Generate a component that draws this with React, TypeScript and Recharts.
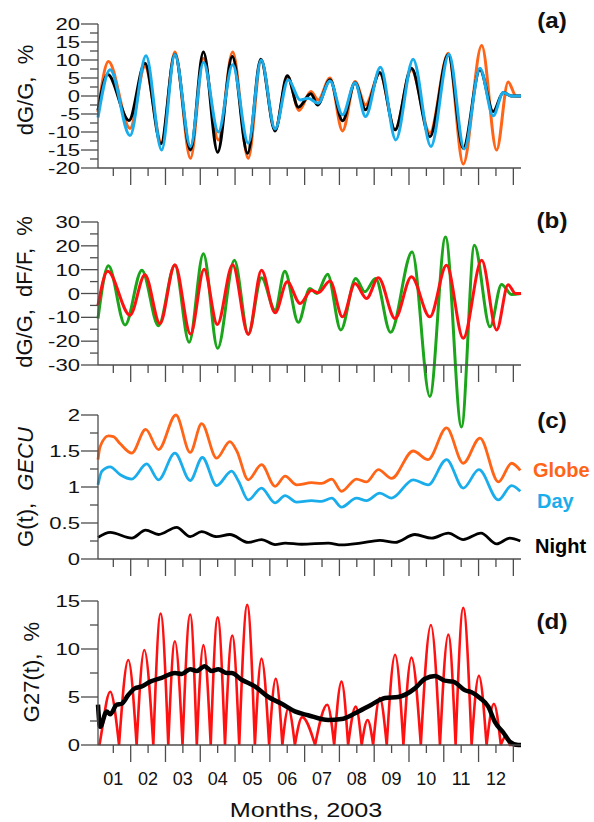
import { LineChart, Line, XAxis, YAxis, Customized } from 'recharts';

const FONT = '"Liberation Sans", Arial, Helvetica, sans-serif';
const AXIS = '#4d4d4d';
const ORANGE = '#ff6417';
const BLUE = '#1aadec';
const GREEN = '#1aa51a';
const RED = '#ff1111';

// x is in months of 2003 (0 = Jan 1)
const monthLabels = ['01', '02', '03', '04', '05', '06', '07', '08', '09', '10', '11', '12'];
const monthTicks = [0.5, 1, 1.5, 2, 2.5, 3, 3.5, 4, 4.5, 5, 5.5, 6, 6.5, 7, 7.5, 8, 8.5, 9, 9.5, 10, 10.5, 11, 11.5, 12];

const aTicks = [-20, -17.5, -15, -12.5, -10, -7.5, -5, -2.5, 0, 2.5, 5, 7.5, 10, 12.5, 15, 17.5, 20];
const bTicks = [-30, -25, -20, -15, -10, -5, 0, 5, 10, 15, 20, 25, 30];
const cTicks = [0, 0.25, 0.5, 0.75, 1, 1.25, 1.5, 1.75, 2];
const dTicks = [0, 2.5, 5, 7.5, 10, 12.5, 15];

// (a) dG/G, %
const aOrange = [[0.06, -4.5], [0.36, 9.6], [0.98, -9], [1.41, 8.2], [1.89, -13.1], [2.27, 12.2], [2.72, -17.3], [3.09, 10.5], [3.52, -12.2], [3.93, 12.2], [4.38, -17.3], [4.75, 10], [5.15, -9.4], [5.51, 5.4], [5.84, -4], [6.18, 1.25], [6.39, -1.1], [6.73, 5], [7.09, -9.7], [7.45, 4], [7.75, -2.5], [8.16, 6.4], [8.6, -9.4], [9.07, 7.3], [9.6, -10.3], [10.13, 11.9], [10.56, -18.9], [11.09, 14], [11.52, -15], [11.85, 3.9], [12.08, 0], [12.22, 0]];
const aBlack = [[0.06, -4], [0.34, 6], [0.95, -6.8], [1.41, 9.1], [1.87, -13.3], [2.27, 11.6], [2.72, -15], [3.09, 12.2], [3.5, -15.6], [3.92, 11], [4.36, -15.9], [4.74, 10.2], [5.15, -9.7], [5.5, 5.6], [5.82, -3.1], [6.18, 0.6], [6.37, -2.5], [6.73, 4.5], [7.09, -6.9], [7.45, 3.7], [7.75, -3.8], [8.16, 6.5], [8.6, -9.4], [9.07, 7.7], [9.6, -11.3], [10.13, 11.5], [10.56, -14.5], [11.04, 7.3], [11.42, -4.3], [11.71, 1], [11.95, 0], [12.22, 0]];
const aBlue = [[0.06, -6], [0.41, 7.3], [0.98, -11], [1.44, 11.2], [1.89, -15], [2.27, 11.5], [2.72, -14], [3.09, 9.4], [3.52, -10], [3.93, 8.7], [4.38, -13.1], [4.75, 10], [5.15, -9.2], [5.53, 4.5], [5.87, -1.1], [6.1, -0.6], [6.39, -2], [6.73, 4.2], [7.09, -5.2], [7.45, 3.7], [7.75, -5.7], [8.18, 8], [8.62, -12.2], [9.12, 10.2], [9.63, -14], [10.15, 11.6], [10.59, -14.7], [11.04, 7.7], [11.42, -5.5], [11.71, 1], [11.95, 0], [12.22, 0]];

// (b) dG/G, dF/F, %
const bGreen = [[0.06, -10.5], [0.36, 11.6], [0.84, -13.2], [1.32, 9.8], [1.8, -13.5], [2.27, 11.9], [2.68, -20.5], [3.09, 16.7], [3.5, -23], [3.98, 13.9], [4.38, -17], [4.76, 6.6], [5.15, -7], [5.43, 9.3], [5.82, -12.1], [6.15, 2.1], [6.35, 0], [6.66, 8.1], [7.04, -15.3], [7.47, 6.3], [7.73, 0.7], [8.04, 6.3], [8.47, -16.3], [9.09, 17.4], [9.6, -43.2], [10.05, 23.7], [10.51, -56], [10.88, 20.2], [11.33, -14], [11.66, 3.8], [11.95, -0.4], [12.22, 0]];
const bRed = [[0.06, -4.9], [0.34, 9.3], [0.98, -9.1], [1.41, 7.9], [1.84, -12.6], [2.27, 12.1], [2.72, -17], [3.11, 10.2], [3.49, -13], [3.93, 12.1], [4.38, -17.2], [4.76, 9.8], [5.15, -8.1], [5.5, 4.9], [5.87, -4.2], [6.2, 1.4], [6.39, 0.3], [6.73, 5.2], [7.09, -9.8], [7.45, 4.2], [7.78, -2.1], [8.12, 6.6], [8.6, -10.5], [9.07, 7], [9.6, -9.8], [10.08, 11.9], [10.56, -18.8], [11.09, 13.9], [11.52, -15.3], [11.85, 3.7], [12.06, 0], [12.22, 0]];

// (c) G(t), GECU
const cGlobe = [[0.06, 1.38], [0.12, 1.56], [0.36, 1.71], [0.5, 1.7], [0.7, 1.6], [1.03, 1.47], [1.43, 1.8], [1.8, 1.52], [2.3, 2.0], [2.71, 1.48], [3.04, 1.88], [3.47, 1.4], [3.85, 1.63], [4.05, 1.5], [4.38, 1.1], [4.76, 1.31], [5.15, 1.01], [5.44, 1.15], [5.77, 1.03], [6.2, 1.06], [6.49, 1.05], [6.78, 1.11], [7.06, 0.94], [7.49, 1.11], [7.78, 1.07], [8.12, 1.24], [8.5, 1.12], [9.12, 1.5], [9.55, 1.38], [10.08, 1.82], [10.56, 1.33], [11.04, 1.68], [11.57, 1.07], [11.95, 1.33], [12.2, 1.23]];
const cDay = [[0.06, 1.03], [0.17, 1.22], [0.41, 1.28], [0.7, 1.17], [1.03, 1.11], [1.46, 1.32], [1.8, 1.1], [2.27, 1.47], [2.71, 1.09], [3.06, 1.41], [3.47, 1.02], [3.9, 1.22], [4.1, 1.08], [4.38, 0.82], [4.76, 0.985], [5.15, 0.78], [5.44, 0.88], [5.77, 0.79], [6.2, 0.81], [6.49, 0.8], [6.78, 0.845], [7.06, 0.72], [7.49, 0.845], [7.78, 0.81], [8.16, 0.915], [8.5, 0.845], [9.12, 1.1], [9.55, 1.03], [10.08, 1.38], [10.56, 0.985], [11.01, 1.24], [11.57, 0.82], [11.95, 1.02], [12.2, 0.94]];
const cNight = [[0.06, 0.3], [0.41, 0.37], [1.03, 0.29], [1.43, 0.4], [1.8, 0.34], [2.32, 0.44], [2.71, 0.31], [3.04, 0.38], [3.47, 0.31], [3.85, 0.34], [4.38, 0.23], [4.76, 0.27], [5.15, 0.2], [5.44, 0.22], [5.91, 0.205], [6.68, 0.22], [7.06, 0.195], [7.6, 0.22], [8.16, 0.26], [8.6, 0.23], [9.17, 0.34], [9.65, 0.29], [10.13, 0.36], [10.56, 0.27], [11.07, 0.36], [11.52, 0.21], [11.9, 0.29], [12.2, 0.25]];

// (d) G27(t), %
const dRed = [[0.1, 0], [0.41, 5.55], [0.665, 0], [0.93, 8.85], [1.17, 0], [1.39, 9.9], [1.65, 0], [1.86, 13.7], [2.08, 0], [2.27, 10.8], [2.49, 0], [2.71, 13.6], [2.9, 0], [3.09, 10.4], [3.3, 0], [3.5, 13.3], [3.71, 0], [3.92, 11.4], [4.12, 0], [4.35, 14.6], [4.57, 0], [4.76, 9.0], [4.98, 0], [5.17, 6.9], [5.36, 0], [5.53, 3.8], [5.72, 0], [5.93, 2.9], [6.3, 0], [6.65, 4.2], [6.85, 0], [7.06, 6.6], [7.25, 0], [7.47, 4.0], [7.64, 0], [7.81, 2.6], [7.97, 0], [8.16, 4.9], [8.36, 0], [8.6, 9.4], [8.84, 0], [9.07, 9.1], [9.34, 0], [9.63, 12.5], [9.89, 0], [10.13, 11.5], [10.34, 0], [10.56, 14.3], [10.8, 0], [11.01, 7.2], [11.23, 0], [11.44, 4.3], [11.64, 0], [11.78, 0.9], [11.9, 0], [12.2, 0]];
const dBlack = [[0.06, 4.2], [0.12, 1.9], [0.31, 3.5], [0.41, 3.2], [0.6, 4.2], [0.74, 4.3], [0.93, 5.2], [1.12, 5.9], [1.32, 6.1], [1.56, 6.6], [1.89, 7.0], [2.27, 7.5], [2.47, 7.4], [2.71, 7.9], [2.9, 7.7], [3.12, 8.2], [3.33, 7.7], [3.52, 7.9], [3.76, 7.5], [3.9, 7.5], [4.19, 6.8], [4.57, 6.1], [4.96, 5.0], [5.34, 4.3], [5.72, 3.5], [6.1, 3.1], [6.68, 2.6], [7.06, 2.7], [7.45, 3.3], [7.92, 4.2], [8.31, 4.9], [8.69, 5.0], [9.17, 5.9], [9.46, 6.9], [9.75, 7.2], [10.03, 6.7], [10.27, 6.6], [10.61, 5.7], [10.8, 5.5], [11.04, 4.9], [11.28, 4.0], [11.47, 2.4], [11.71, 1.3], [11.9, 0.35], [12.14, 0], [12.22, 0]];

const pts = (s: number[][]) => s.map(([t, v]) => ({ t, v }));

// curve with rounded crests and sharp cusps where |x| touches zero
function cuspCurve(context: any) {
  let p: number[][] = [];
  const slope = (i: number, sec: number) => {
    const prev = p[i - 1], cur = p[i], next = p[i + 1];
    if (!prev || !next) return sec;
    if (cur[1] > prev[1] && cur[1] > next[1]) return sec * 1.5;
    if (cur[1] < prev[1] && cur[1] < next[1]) return 0;
    return sec;
  };
  return {
    areaStart() {},
    areaEnd() {},
    lineStart() { p = []; },
    point(x: number, y: number) { p.push([+x, +y]); },
    lineEnd() {
      if (!p.length) return;
      context.moveTo(p[0][0], p[0][1]);
      for (let i = 0; i < p.length - 1; i++) {
        const [x0, y0] = p[i];
        const [x1, y1] = p[i + 1];
        const dx = x1 - x0;
        const sec = (y1 - y0) / dx;
        const m0 = slope(i, sec);
        const m1 = slope(i + 1, sec);
        context.bezierCurveTo(x0 + dx / 3, y0 + (m0 * dx) / 3, x1 - dx / 3, y1 - (m1 * dx) / 3, x1, y1);
      }
    },
  };
}

const XTick = ({ x, y, payload, labels }: any) => {
  const v = payload.value;
  const edge = Number.isInteger(v);
  return (
    <g>
      <line x1={x} x2={x} y1={y} y2={y + (edge ? 17 : 8)} stroke={AXIS} strokeWidth={1.3} />
      {labels && !edge && (
        <text x={x} y={y + 40} textAnchor="middle" fontSize={18} fontFamily={FONT} fill="#111">
          {monthLabels[Math.floor(v)]}
        </text>
      )}
    </g>
  );
};

const YTick = ({ x, y, payload, step }: any) => {
  const v = payload.value;
  const major = Math.abs(v / step - Math.round(v / step)) < 1e-6;
  return (
    <g>
      <line x1={x - (major ? 17 : 8)} x2={x} y1={y} y2={y} stroke={AXIS} strokeWidth={1.3} />
      {major && (
        <text
          transform={`translate(${x - 18}, ${y}) scale(1.3, 1)`}
          dy="0.36em"
          textAnchor="end"
          fontSize={17}
          fontFamily={FONT}
          fill="#111"
        >
          {String(v)}
        </text>
      )}
    </g>
  );
};

const W = 594;
const TOP = 20;
const X_DOMAIN = [0.06, 12.22];

function Panel({ top, plotH, xAxisH, domain, ticks, step, labels, extras, children }: any) {
  return (
    <div style={{ position: 'absolute', left: 0, top }}>
      <LineChart width={W} height={TOP + plotH + xAxisH} margin={{ top: TOP, right: 73, bottom: 0, left: 0 }}>
        <XAxis
          dataKey="t"
          type="number"
          domain={X_DOMAIN}
          ticks={monthTicks}
          interval={0}
          height={xAxisH}
          tickLine={false}
          tickSize={0}
          tickMargin={0}
          axisLine={{ stroke: AXIS, strokeWidth: 1.3 }}
          tick={(p: any) => <XTick {...p} labels={labels} />}
        />
        <YAxis
          type="number"
          width={98}
          domain={domain}
          ticks={ticks}
          interval={0}
          tickLine={false}
          tickSize={0}
          tickMargin={0}
          axisLine={{ stroke: AXIS, strokeWidth: 1.3 }}
          tick={(p: any) => <YTick {...p} step={step} />}
        />
        {children}
        <Customized component={extras} />
      </LineChart>
    </div>
  );
}

const yTitle = (x: number, y: number, content: any) => (
  <text
    transform={`translate(${x}, ${y}) rotate(-90)`}
    textAnchor="middle"
    dominantBaseline="central"
    fontSize={22}
    fontFamily={FONT}
    fill="#111"
    style={{ whiteSpace: 'pre' }}
  >
    {content}
  </text>
);

const tag = (y: number, s: string) => (
  <text
    transform={`translate(552, ${y}) scale(1.1, 1)`}
    textAnchor="middle"
    fontSize={22}
    fontWeight="bold"
    fontFamily={FONT}
    fill="#111"
  >
    {s}
  </text>
);

export default function App() {
  return (
    <div style={{ position: 'absolute', left: 0, top: 0, width: W, height: 822, background: '#fff', overflow: 'hidden' }}>
      <Panel
        top={4} plotH={144} xAxisH={20} domain={[-20, 20]} ticks={aTicks} step={5}
        extras={<g>{yTitle(25, 86, 'dG/G,  %')}{tag(24, '(a)')}</g>}
      >
        <Line data={pts(aOrange)} dataKey="v" type="monotone" stroke={ORANGE} strokeWidth={3} dot={false} isAnimationActive={false} />
        <Line data={pts(aBlack)} dataKey="v" type="monotone" stroke="#000" strokeWidth={3} dot={false} isAnimationActive={false} />
        <Line data={pts(aBlue)} dataKey="v" type="monotone" stroke={BLUE} strokeWidth={3} dot={false} isAnimationActive={false} />
      </Panel>

      {/* green curve of (b) runs far below the axis, so it gets its own taller scale */}
      <div style={{ position: 'absolute', left: 0, top: 202 }}>
        <LineChart width={W} height={TOP + 214.5} margin={{ top: TOP, right: 73, bottom: 0, left: 98 }}>
          <XAxis dataKey="t" type="number" domain={X_DOMAIN} hide />
          <YAxis type="number" domain={[-60, 30]} hide />
          <Line data={pts(bGreen)} dataKey="v" type="monotone" stroke={GREEN} strokeWidth={3} dot={false} isAnimationActive={false} />
        </LineChart>
      </div>
      <Panel
        top={202} plotH={143} xAxisH={20} domain={[-30, 30]} ticks={bTicks} step={10}
        extras={<g>{yTitle(24, 90, 'dG/G,  dF/F,  %')}{tag(26, '(b)')}</g>}
      >
        <Line data={pts(bRed)} dataKey="v" type="monotone" stroke={RED} strokeWidth={3} dot={false} isAnimationActive={false} />
      </Panel>

      <Panel
        top={395} plotH={144} xAxisH={20} domain={[0, 2]} ticks={cTicks} step={0.5}
        extras={
          <g>
            {yTitle(25, 92, <>{'G(t),  '}<tspan fontStyle="italic">GECU</tspan></>)}
            {tag(33, '(c)')}
            <text x={533} y={82} fontSize={20} fontWeight="bold" fontFamily={FONT} fill={ORANGE}>Globe</text>
            <text x={537} y={113} fontSize={20} fontWeight="bold" fontFamily={FONT} fill={BLUE}>Day</text>
            <text x={535} y={158} fontSize={20} fontWeight="bold" fontFamily={FONT} fill="#000">Night</text>
          </g>
        }
      >
        <Line data={pts(cGlobe)} dataKey="v" type="monotone" stroke={ORANGE} strokeWidth={2.8} dot={false} isAnimationActive={false} />
        <Line data={pts(cDay)} dataKey="v" type="monotone" stroke={BLUE} strokeWidth={2.8} dot={false} isAnimationActive={false} />
        <Line data={pts(cNight)} dataKey="v" type="monotone" stroke="#000" strokeWidth={2.8} dot={false} isAnimationActive={false} />
      </Panel>

      <Panel
        top={581} plotH={144} xAxisH={80} domain={[0, 15]} ticks={dTicks} step={5} labels
        extras={
          <g>
            {yTitle(31, 91, 'G27(t),  %')}
            {tag(48, '(d)')}
            <text
              transform="translate(306, 236) scale(1.2, 1)"
              textAnchor="middle"
              fontSize={21}
              fontFamily={FONT}
              fill="#111"
            >
              Months, 2003
            </text>
          </g>
        }
      >
        <Line data={pts(dRed)} dataKey="v" type={cuspCurve as any} stroke={RED} strokeWidth={2.6} dot={false} isAnimationActive={false} />
        <Line data={pts(dBlack)} dataKey="v" type="monotone" stroke="#000" strokeWidth={4.5} dot={false} isAnimationActive={false} />
      </Panel>
    </div>
  );
}
